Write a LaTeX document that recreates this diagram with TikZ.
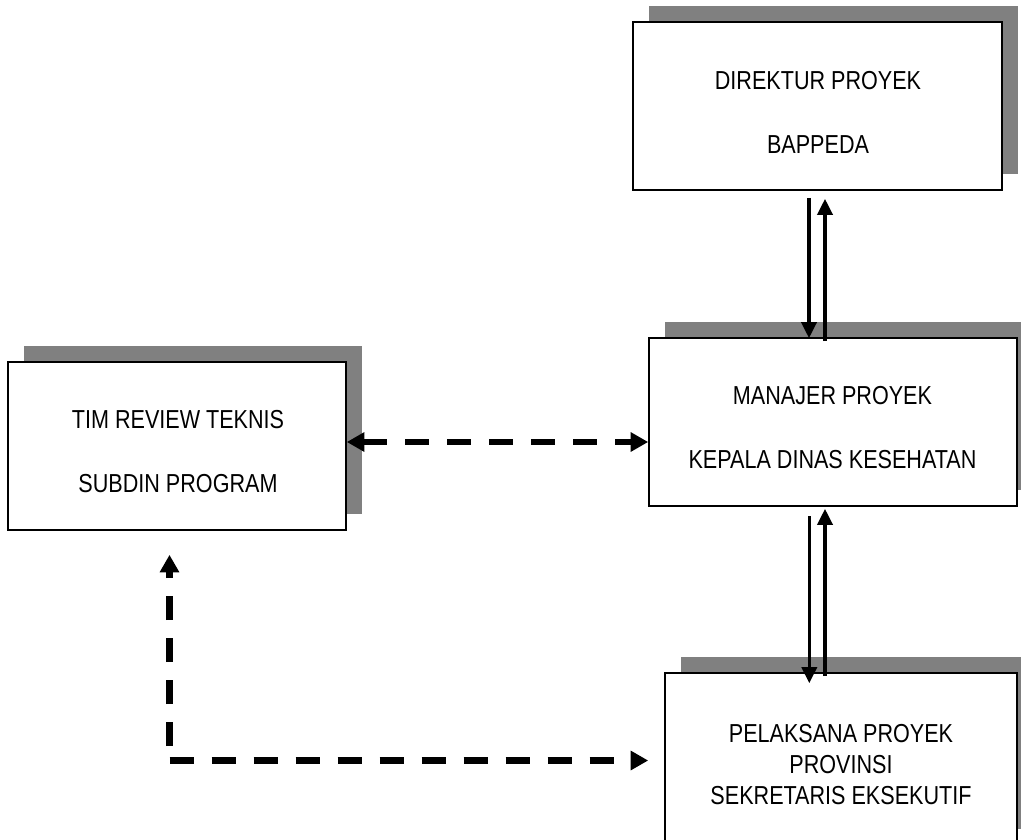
\documentclass[tikz,border=0pt]{standalone}
\usepackage{fontspec}
\setmainfont[FakeStretch=0.83]{Liberation Sans}
\usetikzlibrary{arrows.meta,shadows,calc}
\definecolor{shadowgray}{HTML}{808080}
\tikzset{
  boxnode/.style={draw=black, line width=1.6pt, fill=white, inner sep=0pt,
    general shadow={fill=shadowgray, shadow xshift=16pt, shadow yshift=16pt}},
  twoline/.style={align=center, inner sep=0pt, font=\fontsize{26pt}{64pt}\selectfont},
  threeline/.style={align=center, inner sep=0pt, font=\fontsize{26pt}{31.2pt}\selectfont},
  solidarr/.style={line width=3.5pt, -{Triangle[length=16pt,width=15pt]}},
  dsh/.style={line width=6.5pt, dash pattern=on 24pt off 18pt},
  dtip/.tip={Triangle[length=17.5pt,width=18.5pt]}
}
\begin{document}
\begin{tikzpicture}[x=1pt,y=-1pt]
\useasboundingbox (0,0) rectangle (1021,839);
% boxes
\node[boxnode, minimum width=369pt, minimum height=168pt] (dir) at (817.5,106) {};
\node[boxnode, minimum width=368pt, minimum height=168pt] (mgr) at (833,422) {};
\node[boxnode, minimum width=338pt, minimum height=168pt] (tim) at (177,446) {};
\node[boxnode, minimum width=352pt, minimum height=172pt] (pel) at (841,759) {};
% texts
\node[twoline] (dirtxt) at (818,112.5) {DIREKTUR PROYEK\\BAPPEDA};
\node[twoline] (mgrtxt) at (832.5,427.7) {MANAJER PROYEK\\KEPALA DINAS KESEHATAN};
\node[twoline] (timtxt) at (178,451.6) {TIM REVIEW TEKNIS\\SUBDIN PROGRAM};
\node[threeline] (peltxt) at (841,764.5) {PELAKSANA PROYEK\\PROVINSI\\SEKRETARIS EKSEKUTIF};
% solid arrows dir <-> mgr
\draw[solidarr] ($(dir.south)+(-8.5,7)$) -- ($(dir.south|-mgr.north)+(-8.5,1)$);
\draw[solidarr] ($(dir.south|-mgr.north)+(7.5,4)$) -- ($(dir.south)+(7.5,8)$);
% solid arrows mgr <-> pel
\draw[solidarr] ($(mgr.south)+(-23.7,9.5)$) -- ($(mgr.south|-pel.north)+(-23.7,11)$);
\draw[solidarr] ($(mgr.south|-pel.north)+(-8,4)$) -- ($(mgr.south)+(-8,2)$);
% dashed tim <-> mgr
\draw[dsh, dtip-dtip] ($(tim.east)+(0,-4)$) -- ($(tim.east-|mgr.west)+(0,-4)$);
% dashed L: pel/tim
\coordinate (corner) at (169.5,760.5);
\draw[dsh, -dtip] ($(corner)+(0,-14.5)$) -- ($(corner|-tim.south)+(0,24)$);
\draw[dsh, -dtip] (corner) -- ($(corner-|pel.west)+(-16,0)$);
\end{tikzpicture}
\end{document}
